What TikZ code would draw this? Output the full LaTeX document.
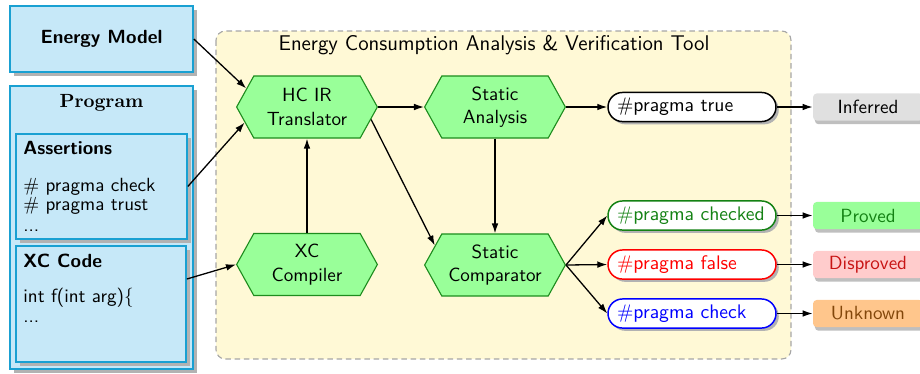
\documentclass[tikz,border=0pt]{standalone}
\usetikzlibrary{shapes.symbols,shapes.misc,shadows,arrows.meta,calc}
\definecolor{boxblue}{RGB}{198,232,248}
\definecolor{boxborder}{RGB}{25,160,210}
\definecolor{hexfill}{RGB}{153,255,153}
\definecolor{hexborder}{RGB}{30,140,30}
\definecolor{toolbg}{RGB}{255,249,214}
\definecolor{okgreen}{RGB}{20,130,20}
\definecolor{badred}{RGB}{200,20,20}
\definecolor{unkbrown}{RGB}{130,70,10}
\begin{document}
\begin{tikzpicture}[x=0.54pt,y=-0.54pt,font=\sffamily\fontsize{10.3}{12.6}\selectfont,
  bluebox/.style={draw=boxborder,fill=boxblue,line width=0.9pt,inner sep=0pt,
    drop shadow={shadow xshift=2.2pt,shadow yshift=-2.2pt,fill=black!30,opacity=1}},
  hexa/.style={signal,signal to=east and west,signal pointer angle=122,draw=hexborder,
    fill=hexfill,line width=0.6pt,minimum width=76pt,minimum height=33.5pt,
    align=center,inner sep=1pt},
  pragma/.style={rectangle,rounded corners=7.8pt,draw,fill=white,line width=0.8pt,
    minimum height=15.7pt,text width=80.9pt,inner xsep=4.9pt,inner ysep=0pt,align=left,
    font=\sffamily\fontsize{10.6}{12.6}\selectfont,
    drop shadow={shadow xshift=1.5pt,shadow yshift=-1.5pt,fill=black!30,opacity=1}},
  result/.style={rectangle,rounded corners=2pt,minimum width=59.4pt,minimum height=14.6pt,
    inner sep=0pt,
    drop shadow={shadow xshift=1pt,shadow yshift=-2pt,fill=black!25,opacity=1}},
  conn/.style={-{Latex[length=5.4pt,width=3.6pt]},line width=0.7pt},
  txt/.style={anchor=base west,inner sep=0pt}]
\useasboundingbox (0,0) rectangle (920,373);
% tool background
\draw[gray!70,dashed,dash pattern=on 3pt off 2pt,fill=toolbg,rounded corners=5pt,line width=0.6pt]
  (216,31) rectangle (791,359);
\node[anchor=base,inner sep=0pt,font=\sffamily\fontsize{11.5}{14}\selectfont] (tooltitle) at (494,50) {Energy Consumption Analysis \& Verification Tool};
% left boxes
\node[bluebox,minimum width=98.8pt,minimum height=35.6pt] (em) at (101.5,39) {\textbf{Energy Model}};
\node[bluebox,minimum width=98.8pt,minimum height=152.8pt] (prog) at (101.5,227.5) {};
\node[anchor=base,inner sep=0pt,font=\rmfamily\bfseries\fontsize{10.3}{12.6}\selectfont] (progtitle) at (101.5,107) {Program};
\node[bluebox,minimum width=92.3pt,minimum height=56.7pt] (asrt) at (101.5,186.5) {};
\node[bluebox,minimum width=91.8pt,minimum height=62.6pt] (xc) at (101,304) {};
\node[txt,font=\sffamily\bfseries\fontsize{10.3}{12.6}\selectfont] (asrt1) at (23,154) {Assertions};
\node[txt] (asrt2) at (23,191) {\# pragma check};
\node[txt] (asrt3) at (23,210) {\# pragma trust};
\node[txt] (asrt4) at (23,231) {...};
\node[txt,font=\sffamily\bfseries\fontsize{10.3}{12.6}\selectfont] (xc1) at (23,267) {XC Code};
\node[txt] (xc2) at (23,302) {int f(int arg)\{};
\node[txt] (xc3) at (23,322) {...};
% hexagons
\node[hexa] (hc) at (307,107) {HC IR\\Translator};
\node[hexa] (sa) at (495,107) {Static\\Analysis};
\node[hexa] (xcc) at (307,264.5) {XC\\Compiler};
\node[hexa] (cmp) at (495,265) {Static\\Comparator};
% pragma nodes
\node[pragma] (ptrue) at (692,107) {\#pragma true};
\node[pragma,draw=okgreen,text=okgreen] (pchecked) at (692,215.5) {\#pragma checked};
\node[pragma,draw=red,text=red] (pfalse) at (692,264.5) {\#pragma false};
\node[pragma,draw=blue,text=blue] (pcheck) at (692,313.5) {\#pragma check};
% results
\node[result,fill=black!12] (inf) at (868,107) {Inferred};
\node[result,fill=hexfill,text=okgreen] (prov) at (868,215.5) {Proved};
\node[result,fill=red!20,text=badred] (disp) at (868,264.5) {Disproved};
\node[result,fill=orange!45,text=unkbrown] (unk) at (868,313.5) {Unknown};
% connectors
\coordinate (xcout) at ($(xc.east)+(0,-25)$);
\draw[conn] (em.east) -- (hc.163);
\draw[conn] (asrt.east) -- (hc.194);
\draw[conn] (xcout) -- (xcc.west);
\draw[conn] (xcc.north) -- (hc.south);
\draw[conn] (hc.east) -- (sa.west);
\draw[conn] (hc.-11) -- (cmp.162);
\draw[conn] (sa.south) -- (cmp.north);
\draw[conn] (sa.east) -- (ptrue.west);
\draw[conn] (cmp.east) -- (pchecked.west);
\draw[conn] (cmp.east) -- (pfalse.west);
\draw[conn] (cmp.east) -- (pcheck.west);
\draw[conn] (ptrue.east) -- (inf.west);
\draw[conn] (pchecked.east) -- (prov.west);
\draw[conn] (pfalse.east) -- (disp.west);
\draw[conn] (pcheck.east) -- (unk.west);
\end{tikzpicture}
\end{document}
